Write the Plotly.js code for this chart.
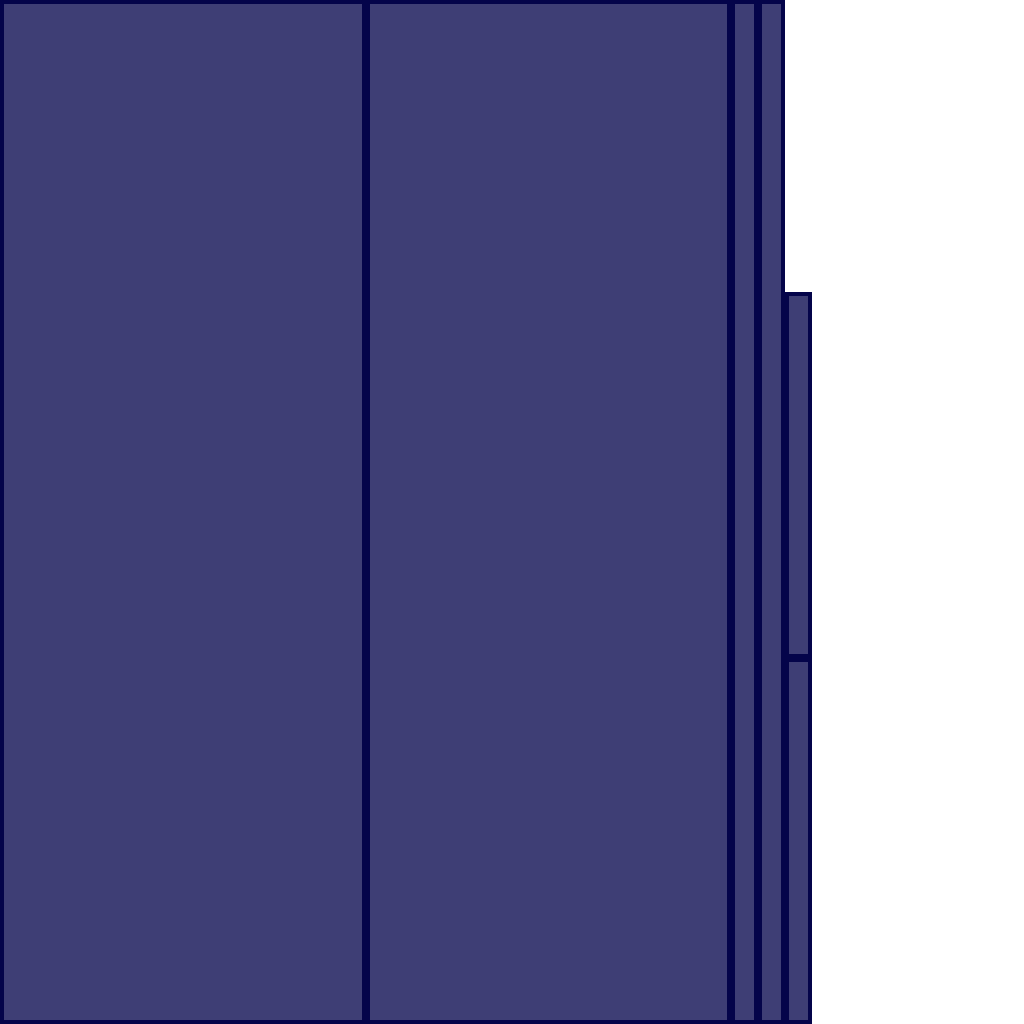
<!DOCTYPE html>
<html>
<head>
<meta charset="utf-8">
<script src="https://cdn.plot.ly/plotly-3.0.1.min.js"></script>
<style>html,body{margin:0;padding:0;background:#fff;}#chart{width:1024px;height:1024px;}</style>
</head>
<body>
<div id="chart"></div>
<script>
// Column widths (x units) and stacked segment values (y units)
const columnWidths = [366, 365, 27, 27, 27];
const lowerValues = [1024, 1024, 1024, 1024, 366];
const upperValues = [0, 0, 0, 0, 366];

const fillColor = '#3e3e75';
const lineColor = '#04044a';
const inset = 2; // each cell is drawn slightly inside its slot

// centres from cumulative widths
const centers = [];
let acc = 0;
for (const w of columnWidths) { centers.push(acc + w / 2); acc += w; }
const drawWidths = columnWidths.map(w => w - 2 * inset);

function segmentTrace(values, bases) {
  const xs = [], ys = [], bs = [], ws = [];
  values.forEach((v, i) => {
    if (v > 0) {
      xs.push(centers[i]);
      ys.push(v - 2 * inset);
      bs.push(bases[i] + inset);
      ws.push(drawWidths[i]);
    }
  });
  return {
    type: 'bar', x: xs, y: ys, base: bs, width: ws,
    marker: {color: fillColor, line: {color: lineColor, width: 4}},
    hoverinfo: 'skip', showlegend: false
  };
}

const data = [
  segmentTrace(lowerValues, lowerValues.map(() => 0)),
  segmentTrace(upperValues, lowerValues)
];

const layout = {
  width: 1024, height: 1024,
  margin: {l: 0, r: 0, t: 0, b: 0, pad: 0},
  barmode: 'overlay', bargap: 0,
  paper_bgcolor: '#ffffff', plot_bgcolor: '#ffffff',
  xaxis: {range: [0, 1024], visible: false, fixedrange: true},
  yaxis: {range: [0, 1024], visible: false, fixedrange: true},
  showlegend: false
};

Plotly.newPlot('chart', data, layout, {displayModeBar: false, staticPlot: true});
</script>
</body>
</html>
